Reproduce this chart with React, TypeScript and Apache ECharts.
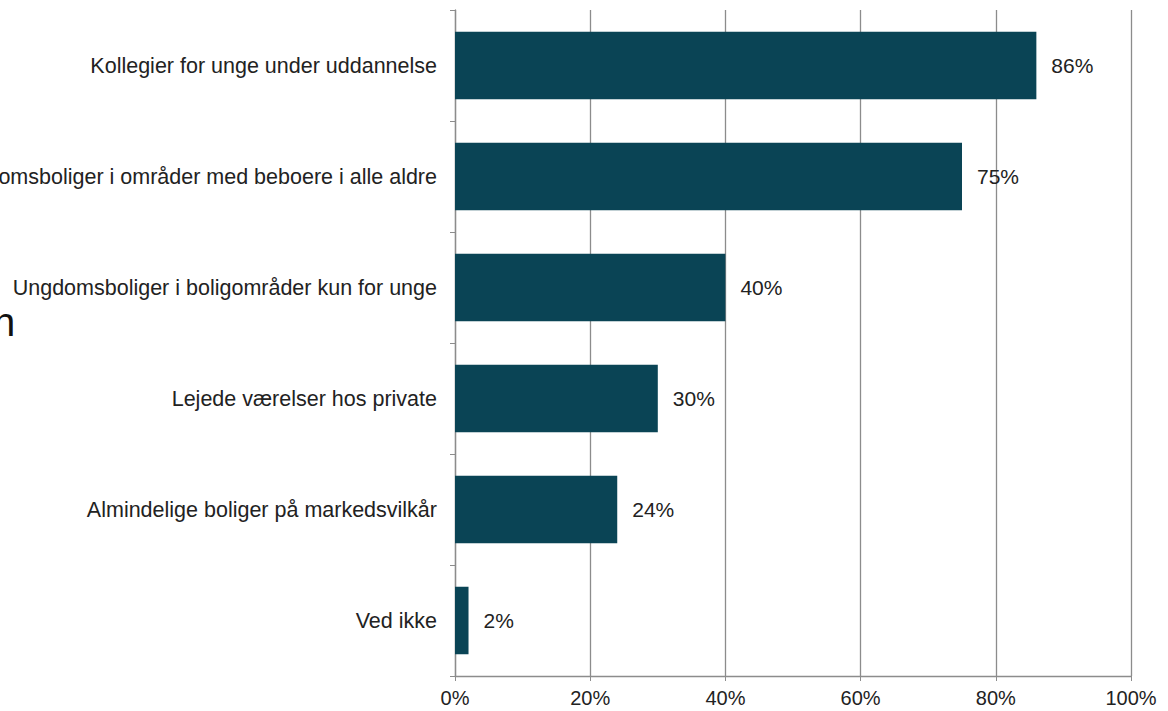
import React, { useEffect, useRef } from "react";
import * as echarts from "echarts";

const categories = [
  "Kollegier for unge under uddannelse",
  "Ungdomsboliger i områder med beboere i alle aldre",
  "Ungdomsboliger i boligområder kun for unge",
  "Lejede værelser hos private",
  "Almindelige boliger på markedsvilkår",
  "Ved ikke",
];
const values = [86, 75, 40, 30, 24, 2];
const xTicks = [0, 20, 40, 60, 80, 100];

export default function App() {
  const ref = useRef<HTMLDivElement>(null);
  useEffect(() => {
    if (!ref.current) return;
    const chart = echarts.init(ref.current, null, { renderer: "svg" });
    chart.setOption({
      animation: false,
      backgroundColor: "#ffffff",
      textStyle: { fontFamily: "Liberation Sans, Arial, sans-serif" },
      grid: {
        left: 455,
        right: 37,
        top: 10,
        bottom: 35,
        containLabel: false,
        outerBoundsMode: "none",
      },
      xAxis: {
        type: "value",
        min: xTicks[0],
        max: xTicks[xTicks.length - 1],
        interval: 20,
        axisLine: { show: true, lineStyle: { color: "#8c8c8c", width: 1.3 } },
        axisTick: { show: true, length: 5, lineStyle: { color: "#8c8c8c" } },
        axisLabel: { formatter: "{value}%", color: "#222", fontSize: 20, margin: 12 },
        splitLine: { show: true, lineStyle: { color: "#8c8c8c", width: 1.3 } },
      },
      yAxis: {
        type: "category",
        data: categories,
        inverse: true,
        axisLine: { show: true, lineStyle: { color: "#8c8c8c", width: 1.3 } },
        axisTick: { show: true, length: 5, inside: false, lineStyle: { color: "#8c8c8c" } },
        axisLabel: { color: "#222", fontSize: 21.5, margin: 18 },
      },
      series: [
        {
          type: "bar",
          data: values,
          barWidth: "61%",
          itemStyle: { color: "#0a4455" },
          label: {
            show: true,
            position: "right",
            distance: 15,
            formatter: "{c}%",
            color: "#222",
            fontSize: 21,
          },
        },
      ],
      graphic: [
        {
          type: "text",
          x: -7,
          y: 322,
          style: {
            text: "n",
            fontSize: 40,
            fill: "#111",
            verticalAlign: "middle",
            fontFamily: "Liberation Sans, Arial, sans-serif",
          },
        },
      ],
    });
    return () => chart.dispose();
  }, []);
  return (
    <div
      ref={ref}
      style={{ position: "fixed", left: 0, top: 0, width: 1168, height: 711, overflow: "hidden" }}
    />
  );
}
